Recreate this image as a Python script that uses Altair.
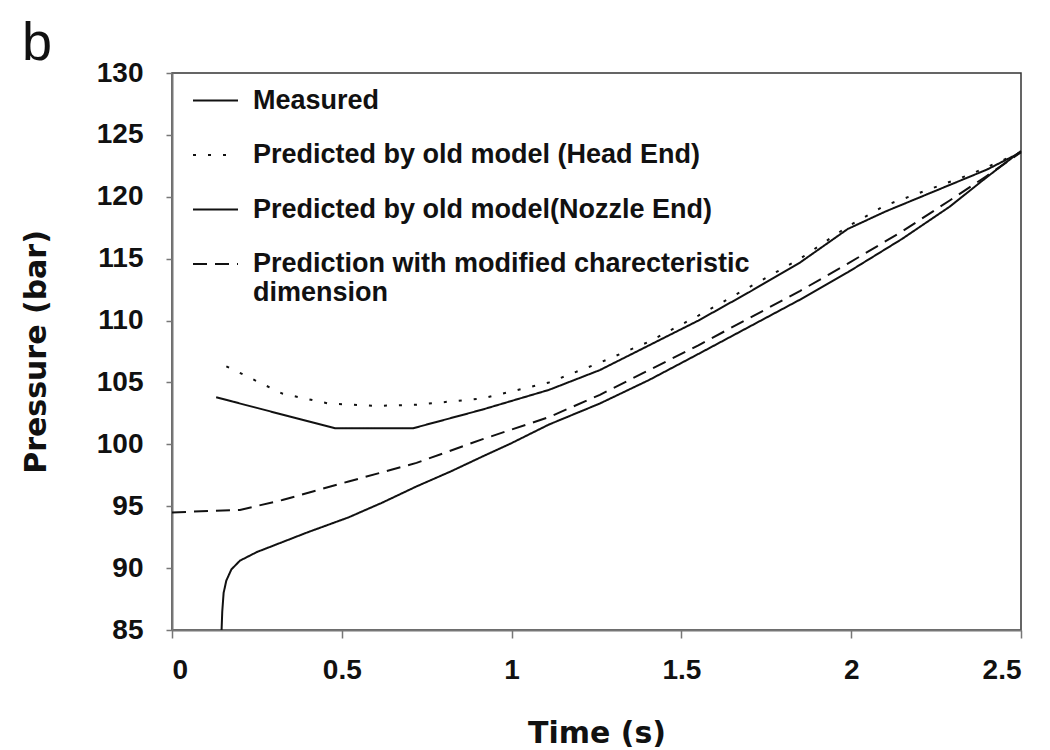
import altair as alt
import pandas as pd

series_names = [
    "Measured",
    "Predicted by old model (Head End)",
    "Predicted by old model(Nozzle End)",
    "Prediction with modified charecteristic dimension",
]

measured_t = [0.146, 0.148, 0.152, 0.16, 0.175, 0.2, 0.25, 0.325, 0.4, 0.52, 0.62, 0.72, 0.82, 0.913, 1.0, 1.11, 1.26, 1.405, 1.55, 1.70, 1.85, 1.99, 2.15, 2.29, 2.4, 2.5]
measured_p = [85.0, 86.5, 88.0, 89.0, 89.9, 90.6, 91.3, 92.1, 92.9, 94.1, 95.3, 96.6, 97.8, 99.0, 100.1, 101.6, 103.3, 105.2, 107.3, 109.5, 111.7, 113.9, 116.6, 119.2, 121.6, 123.7]

head_t = [0.16, 0.25, 0.325, 0.46, 0.6, 0.72, 0.913, 1.11, 1.26, 1.405, 1.55, 1.70, 1.85, 1.99, 2.1, 2.2, 2.35, 2.5]
head_p = [106.3, 105.1, 104.1, 103.3, 103.1, 103.2, 103.7, 105.0, 106.6, 108.3, 110.4, 112.7, 115.0, 117.6, 119.3, 120.3, 121.8, 123.6]

nozzle_t = [0.13, 0.48, 0.71, 0.913, 1.11, 1.26, 1.405, 1.55, 1.70, 1.85, 1.99, 2.1, 2.25, 2.4, 2.5]
nozzle_p = [103.8, 101.3, 101.3, 102.8, 104.4, 106.0, 108.0, 110.0, 112.3, 114.7, 117.4, 118.8, 120.5, 122.2, 123.6]

modified_t = [0.0, 0.2, 0.325, 0.52, 0.72, 0.913, 1.11, 1.26, 1.405, 1.55, 1.70, 1.85, 1.99, 2.15, 2.29, 2.4, 2.5]
modified_p = [94.5, 94.7, 95.5, 97.0, 98.5, 100.4, 102.2, 104.0, 106.0, 108.0, 110.2, 112.4, 114.6, 117.2, 119.7, 121.7, 123.6]

x_ticks = [0, 0.5, 1, 1.5, 2, 2.5]
y_ticks = [85, 90, 95, 100, 105, 110, 115, 120, 125, 130]
panel_label = ["b"]

rows = []
for name, ts, ps in zip(series_names,
                        [measured_t, head_t, nozzle_t, modified_t],
                        [measured_p, head_p, nozzle_p, modified_p]):
    for i, (t, p) in enumerate(zip(ts, ps)):
        rows.append({"series": name, "t": t, "p": p, "order": i})
df = pd.DataFrame(rows)

label_expr = ("datum.label == 'Prediction with modified charecteristic dimension' ? "
              "['Prediction with modified charecteristic', 'dimension'] : datum.label")

lines = alt.Chart(df).mark_line(color="#111111", strokeWidth=2).encode(
    x=alt.X("t:Q", title="Time (s)",
            scale=alt.Scale(domain=[0, 2.5], nice=False, zero=False),
            axis=alt.Axis(values=x_ticks, format="~g", grid=False,
                          tickSize=8, labelPadding=18,
                          titleX=424.5, titleY=112, titleBaseline="alphabetic")),
    y=alt.Y("p:Q", title="Pressure (bar)",
            scale=alt.Scale(domain=[85, 130], nice=False, zero=False),
            axis=alt.Axis(values=y_ticks, grid=False, tickSize=6, labelPadding=23,
                          titleX=-127, titleY=278.5, titleBaseline="alphabetic")),
    strokeDash=alt.StrokeDash(
        "series:N",
        sort=series_names,
        scale=alt.Scale(domain=series_names,
                        range=[[1, 0], [3, 12], [1, 0], [14, 8]]),
        legend=alt.Legend(title=None, orient="none", legendX=20, legendY=4,
                          symbolType="stroke", symbolSize=2025,
                          symbolStrokeWidth=2, symbolStrokeColor="#111111",
                          labelOffset=14, rowPadding=17.5, padding=0,
                          labelFont="Liberation Sans", labelFontSize=27,
                          labelFontWeight="bold", labelColor="#111111",
                          labelLimit=750, labelExpr=label_expr),
    ),
    order="order:Q",
)

label = alt.Chart(pd.DataFrame({"txt": panel_label})).mark_text(
    font="Liberation Sans", fontSize=54, fontWeight="normal", color="#111111",
    align="left", baseline="alphabetic",
).encode(
    text="txt:N",
    x=alt.value(-150),
    y=alt.value(-13),
)

chart = alt.layer(lines, label).properties(
    width=849,
    height=557,
    background="white",
    autosize=alt.AutoSizeParams(type="none"),
    padding={"left": 172, "top": 73, "right": 28, "bottom": 120},
).configure_view(
    stroke="#333333", strokeWidth=1.5
).configure_axis(
    labelFont="Liberation Sans", labelFontSize=28, labelFontWeight="bold",
    labelColor="#111111",
    titleFont="DejaVu Sans", titleFontSize=30, titleFontWeight="bold",
    titleColor="#111111",
    domainColor="#777777", domainWidth=2,
    tickColor="#777777", tickWidth=1.5,
)

chart.save("out.html", embed_options={"renderer": "svg", "actions": False})
